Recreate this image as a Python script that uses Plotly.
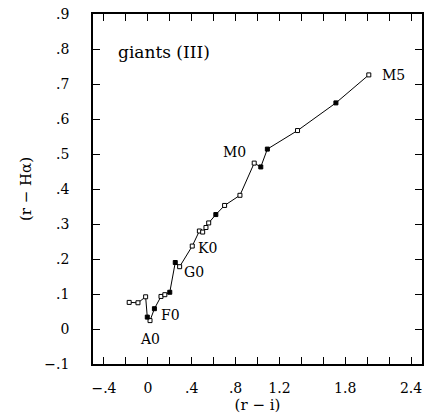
import plotly.graph_objects as go

# data: (r - i), (r - Halpha), filled flag
ri = [-0.17, -0.09, -0.02, -0.005, 0.02, 0.06, 0.12, 0.155, 0.20, 0.25, 0.29, 0.405,
      0.47, 0.50, 0.53, 0.555, 0.62, 0.70, 0.84, 0.97, 1.03, 1.09, 1.365, 1.715, 2.015]
rha = [0.076, 0.075, 0.092, 0.034, 0.024, 0.058, 0.093, 0.098, 0.105, 0.19, 0.178, 0.237,
       0.28, 0.277, 0.29, 0.303, 0.327, 0.353, 0.382, 0.474, 0.463, 0.514, 0.567, 0.646, 0.726]
filled = [0, 0, 0, 1, 0, 1, 0, 0, 1, 1, 0, 0,
          0, 0, 0, 0, 1, 0, 0, 0, 1, 1, 0, 1, 0]

spec_labels = ["A0", "F0", "G0", "K0", "M0", "M5"]
spec_x = [0.02, 0.06, 0.29, 0.405, 0.97, 2.015]
spec_y = [0.024, 0.058, 0.178, 0.237, 0.474, 0.726]

x_tickvals = [-0.4, -0.2, 0.0, 0.2, 0.4, 0.6, 0.8, 1.0, 1.2, 1.4, 1.6, 1.8, 2.0, 2.2, 2.4]
x_ticktext = ["\u2212.4", "", "0", "", ".4", "", ".8", "", "1.2", "", "", "1.8", "", "", "2.4"]
y_tickvals = [-0.1, 0.0, 0.1, 0.2, 0.3, 0.4, 0.5, 0.6, 0.7, 0.8, 0.9]
y_ticktext = ["\u2212.1", "0", ".1", ".2", ".3", ".4", ".5", ".6", ".7", ".8", ".9"]

FONT = "DejaVu Serif"

fig = go.Figure()
fig.add_trace(go.Scatter(x=ri, y=rha, mode="lines",
                         line=dict(color="black", width=1), showlegend=False))
fx = [x for x, f in zip(ri, filled) if f]
fy = [y for y, f in zip(rha, filled) if f]
ox = [x for x, f in zip(ri, filled) if not f]
oy = [y for y, f in zip(rha, filled) if not f]
fig.add_trace(go.Scatter(x=ox, y=oy, mode="markers", showlegend=False,
                         marker=dict(symbol="square", size=4, color="white",
                                     line=dict(color="black", width=1))))
fig.add_trace(go.Scatter(x=fx, y=fy, mode="markers", showlegend=False,
                         marker=dict(symbol="square", size=4, color="black",
                                     line=dict(color="black", width=1))))

# label offsets in pixels: (xshift, yshift, xanchor)
offs = {"A0": (0, -18, "center"), "F0": (5, -6, "left"), "G0": (2, -5, "left"),
        "K0": (4, -2, "left"), "M0": (-6, 11, "right"), "M5": (11, 0, "left")}
for lab, x, y in zip(spec_labels, spec_x, spec_y):
    dx, dy, xa = offs[lab]
    fig.add_annotation(x=x, y=y, text=lab, showarrow=False, xshift=dx, yshift=dy,
                       xanchor=xa, yanchor="middle",
                       font=dict(family=FONT, size=14, color="black"))

fig.add_annotation(xref="paper", yref="paper", x=0.07, y=0.89, text="giants (III)",
                   showarrow=False, xanchor="left", yanchor="middle",
                   font=dict(family=FONT, size=17, color="black"))

axis_common = dict(showgrid=False, zeroline=False, showline=True, linecolor="black",
                   linewidth=1.5, mirror="allticks", ticks="inside", ticklen=7,
                   tickcolor="black", tickwidth=1, automargin=False,
                   tickfont=dict(family=FONT, size=14, color="black"))

fig.update_xaxes(range=[-0.5, 2.5], tickmode="array", tickvals=x_tickvals,
                 ticktext=x_ticktext, ticklabelstandoff=10,
                 title=dict(text="(r \u2212 i)", font=dict(family=FONT, size=15, color="black"),
                            standoff=4),
                 **axis_common)
fig.update_yaxes(range=[-0.1, 0.9], tickmode="array", tickvals=y_tickvals,
                 ticktext=y_ticktext, ticklabelstandoff=19,
                 title=dict(text="(r \u2212 H\u03b1)", font=dict(family=FONT, size=15, color="black"),
                            standoff=9),
                 **axis_common)

fig.update_layout(width=433, height=417, margin=dict(l=93, r=11, t=14, b=53),
                  plot_bgcolor="white", paper_bgcolor="white")

fig.write_html("out.html")
